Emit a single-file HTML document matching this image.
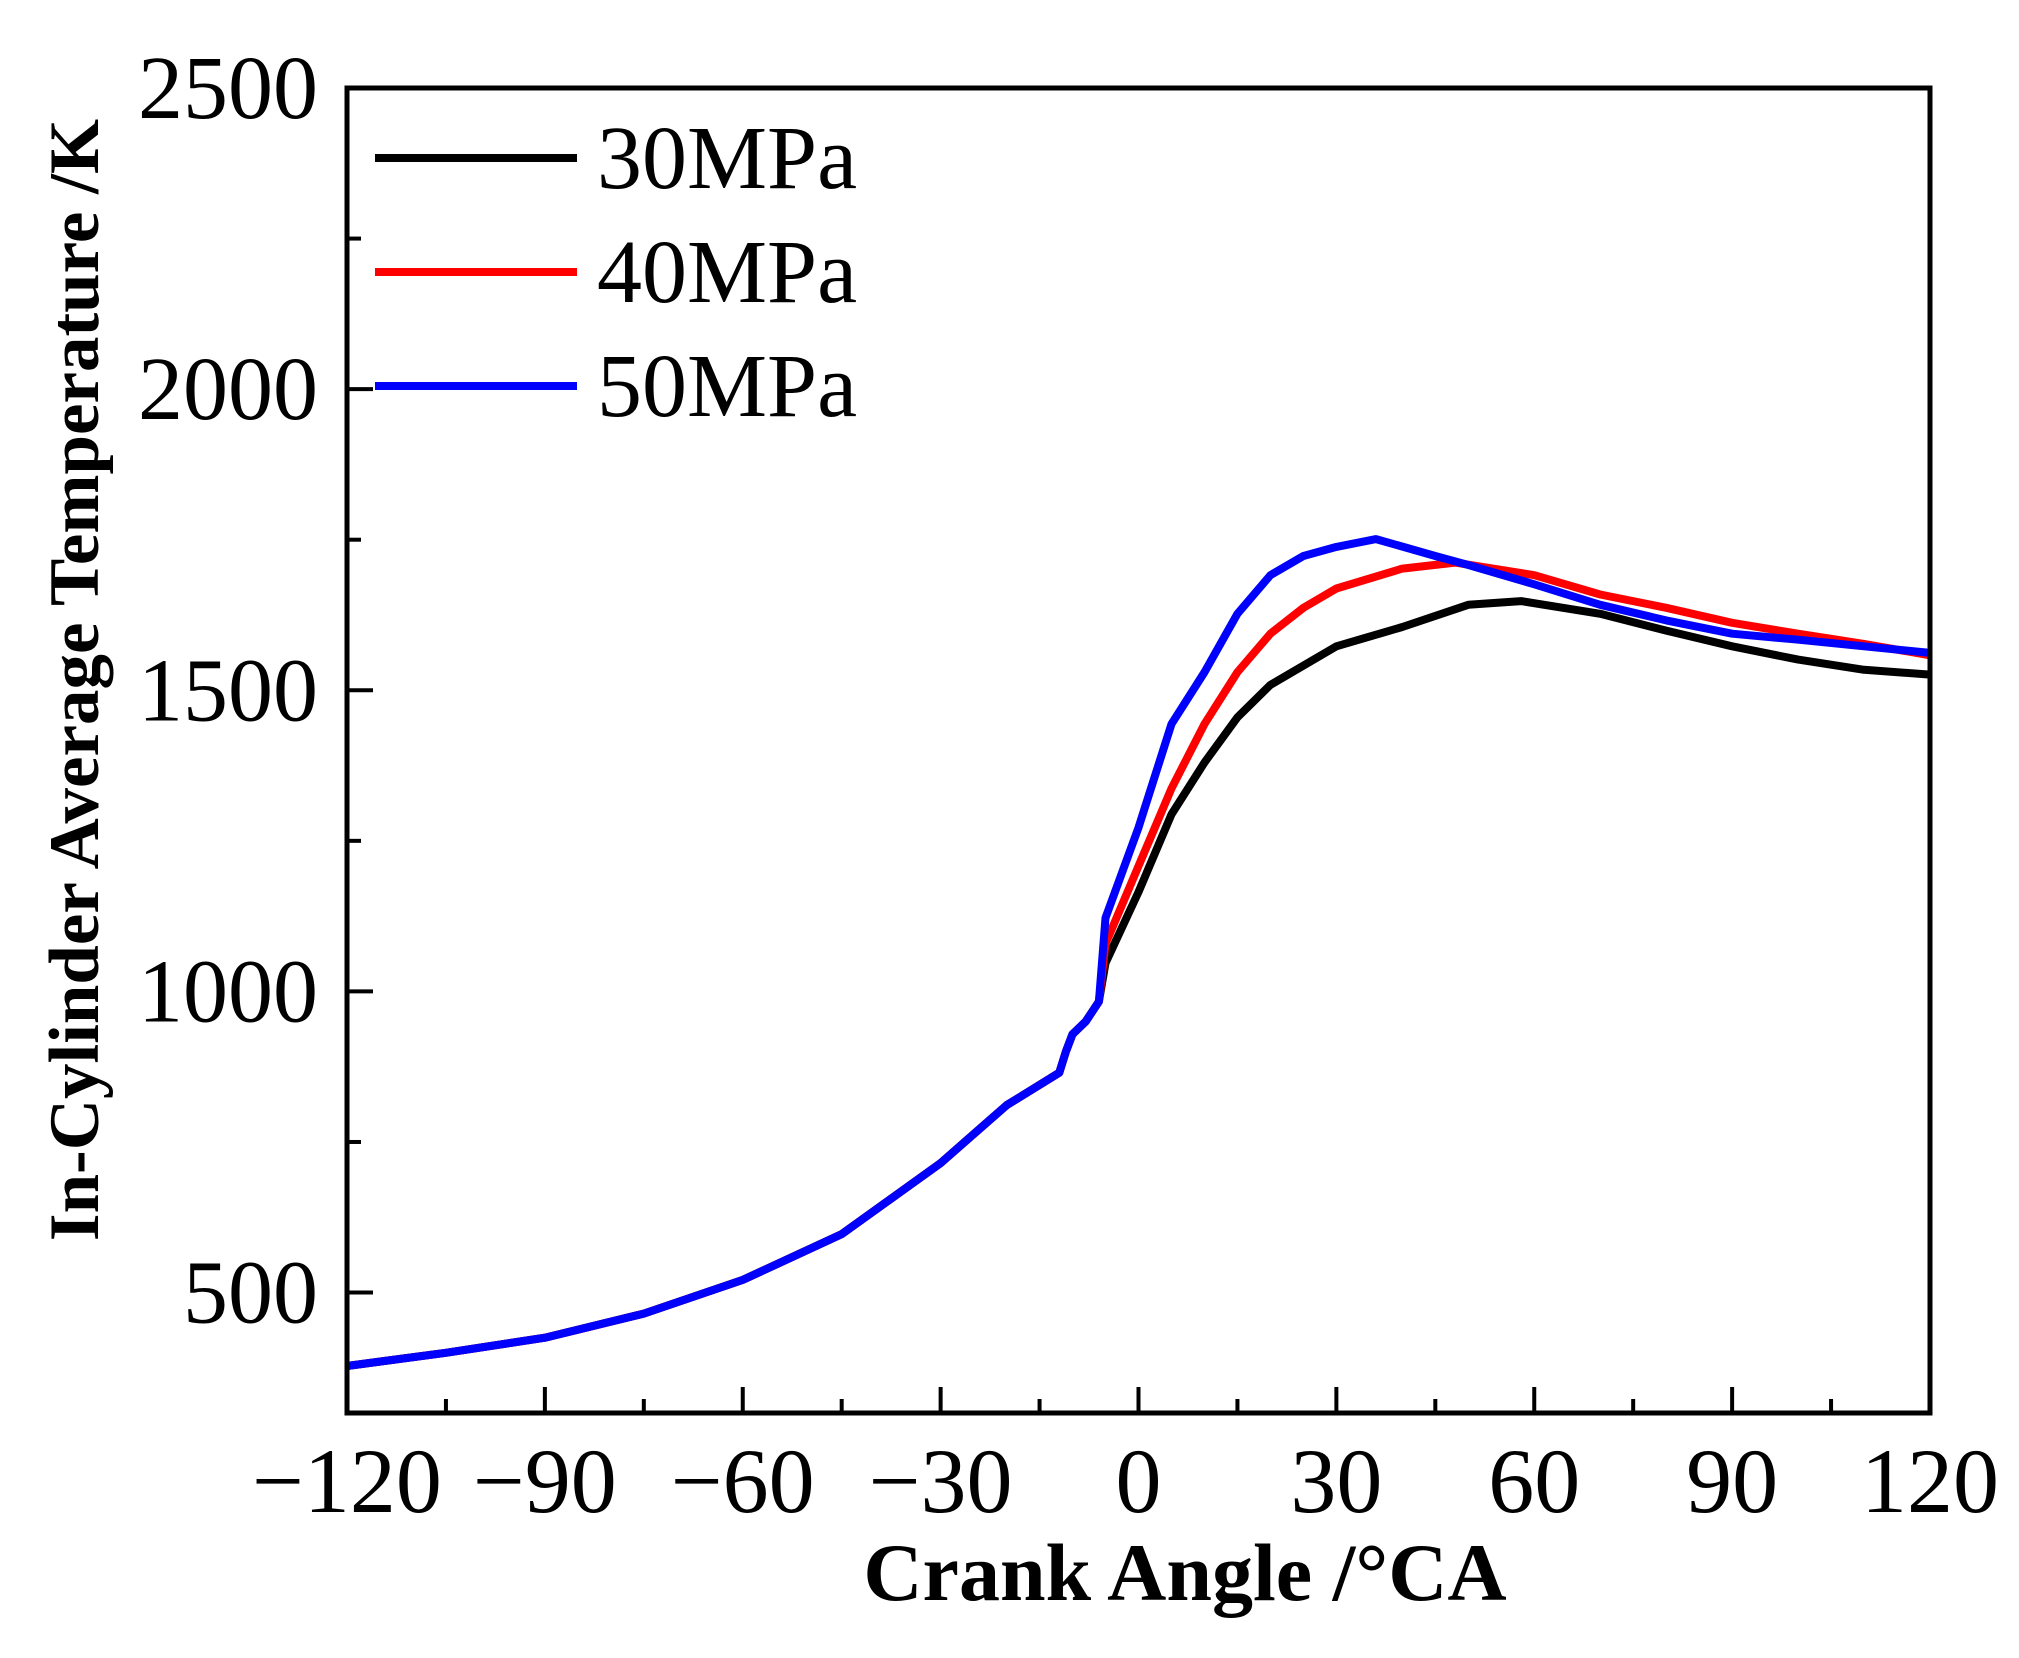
<!DOCTYPE html>
<html><head><meta charset="utf-8"><style>
body{margin:0;background:#fff}
svg text{font-family:"Liberation Serif",serif}
</style></head><body>
<svg id="chart" width="2019" height="1653" xmlns="http://www.w3.org/2000/svg"></svg>
<script>
const xTicks=[-120,-90,-60,-30,0,30,60,90,120];
const yTicks=[500,1000,1500,2000,2500];
const sharedX=[-120,-105,-90,-75,-60,-45,-30,-20,-12,-11,-10,-8,-6];
const sharedY=[378,400,425,465,521,597,715,811,865,900,929,950,983];
const blackX=[-6,-5,0,5,10,15,20,30,40,50,58,70,80,90,100,110,120];
const blackY=[983,1047,1165,1294,1380,1455,1509,1573,1605,1642,1648,1627,1599,1573,1551,1534,1526];
const redX=[-6,-5,0,5,10,15,20,25,30,40,48,60,70,80,90,100,110,120];
const redY=[983,1079,1208,1337,1444,1530,1594,1637,1669,1702,1712,1691,1659,1637,1612,1594,1577,1558];
const blueX=[-6,-5,0,5,10,15,20,25,30,36,45,50,60,70,80,90,100,110,120];
const blueY=[983,1122,1272,1444,1530,1627,1691,1723,1738,1751,1723,1708,1676,1642,1616,1594,1584,1573,1562];
const seriesNames=["30MPa","40MPa","50MPa"];
const seriesColors=["#000","#f00","#00f"];

const L=347,R=1930,T=88,B=1413,xmin=-120,xmax=120,ymin=300,ymax=2500;
const sx=v=>L+(v-xmin)/(xmax-xmin)*(R-L);
const sy=v=>B-(v-ymin)/(ymax-ymin)*(B-T);
const svg=document.getElementById('chart');
const NS="http://www.w3.org/2000/svg";
function mk(tag,attrs,parent){const e=document.createElementNS(NS,tag);for(const k in attrs)e.setAttribute(k,attrs[k]);(parent||svg).appendChild(e);return e;}

for(let v=-120;v<=120;v+=15){
  const t=mk('line',{x1:sx(v),x2:sx(v),y1:B,y2:B-(v%30===0?26:14),stroke:'#000','stroke-width':4});
  
  
}
xTicks.forEach(v=>{
  const t=mk('text',{x:sx(v),y:1512,'font-size':92,'text-anchor':'middle'});
  t.textContent=(v<0?'\u2212'+(-v):v);
  
  
});
for(let v=500;v<=2500;v+=250){
  const t=mk('line',{x1:L,x2:L+(v%500===0?26:14),y1:sy(v),y2:sy(v),stroke:'#000','stroke-width':4});
  
  
}
yTicks.forEach(v=>{
  const t=mk('text',{x:318,y:sy(v)+30,'font-size':90,'text-anchor':'end'});
  t.textContent=v;
  
  
});

const sets=[[blackX,blackY],[redX,redY],[blueX,blueY]];
sets.forEach((s,i)=>{
  const xs=sharedX.concat(s[0].slice(1)),ys=sharedY.concat(s[1].slice(1));
  const d=xs.map((x,j)=>(j?'L':'M')+sx(x).toFixed(1)+','+sy(ys[j]).toFixed(1)).join('');
  const p=mk('path',{d:d,fill:'none',stroke:seriesColors[i],'stroke-width':8,'stroke-linejoin':'round'});
  
  
  const ly=158+i*114;
  const l=mk('line',{x1:375,x2:577,y1:ly,y2:ly,stroke:seriesColors[i],'stroke-width':8});
  
  
  const t=mk('text',{x:597,y:ly+30,'font-size':90});
  t.textContent=seriesNames[i];
  
  
});

const fr=mk('rect',{x:L,y:T,width:R-L,height:B-T,fill:'none',stroke:'#000','stroke-width':5});



const xt=mk('text',{x:1185,y:1600,'font-size':82,'font-weight':'bold','text-anchor':'middle'});
xt.textContent='Crank Angle /\u00B0CA';


const yt=mk('text',{x:0,y:0,'font-size':71,'font-weight':'bold','text-anchor':'middle',transform:'translate(98,680) rotate(-90)'});
yt.textContent='In-Cylinder Average Temperature /K';


</script>
</body></html>
